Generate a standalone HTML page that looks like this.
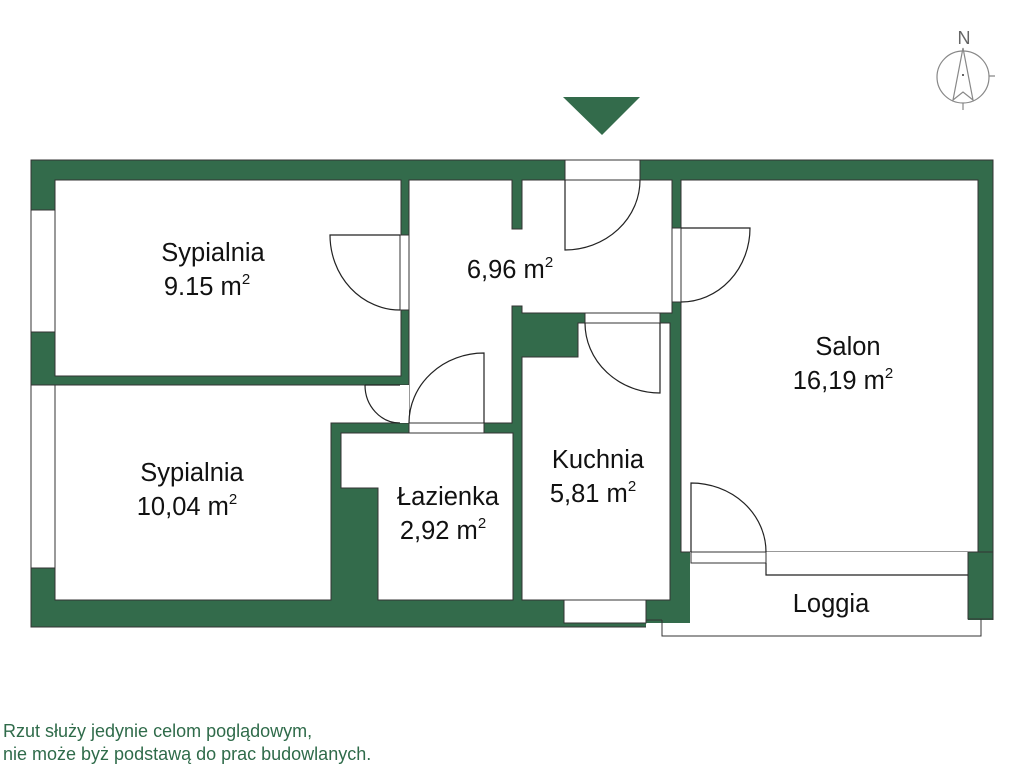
<!DOCTYPE html>
<html><head><meta charset="utf-8"><style>
html,body{margin:0;padding:0;background:#fff;width:1024px;height:768px;overflow:hidden}
svg{display:block}
text{font-family:"Liberation Sans",sans-serif;fill:#111}
</style></head><body>
<svg width="1024" height="768" viewBox="0 0 1024 768" xmlns="http://www.w3.org/2000/svg">
<g fill="#336b4b" stroke="#333" stroke-width="1">
<rect x="31" y="160" width="962" height="467"/>
</g>
<rect x="690" y="620" width="310" height="10" fill="#fff"/>
<rect x="646" y="623" width="50" height="8" fill="#fff"/>
<g fill="#fff" stroke="#333" stroke-width="1">
<rect x="31" y="210" width="24" height="122"/>
<rect x="31" y="385" width="24" height="183"/>
<rect x="565" y="160" width="75" height="20"/>
<rect x="564" y="600" width="82" height="23"/>
<rect x="55" y="180" width="346" height="196"/>
<path d="M55 385 H409 V423 H331 V600 H55 Z"/>
<path d="M409 180 H512 V229 H522 V180 H672 V313 H522 V306 H512 V423 H409 Z"/>
<path d="M578 323 H670 V600 H522 V357 H578 Z"/>
<path d="M341 433 H513 V600 H378 V488 H341 Z"/>
<rect x="681" y="180" width="297" height="372"/>
<path d="M690 552 H968 V620 H690 Z" stroke="none"/>
<rect x="968" y="552" width="25" height="67" fill="#336b4b"/>
<path d="M662 620 H646 M662 620 V636 H981 V619" fill="none"/>
<rect x="400" y="235" width="9" height="75"/>
<rect x="672" y="228" width="9" height="74"/>
<rect x="585" y="313" width="75" height="10"/>
<rect x="409" y="423" width="75" height="10"/>
<rect x="400" y="385" width="9" height="38" stroke="none"/>
<rect x="691" y="552" width="75" height="11"/>
</g>
<g fill="none" stroke="#222" stroke-width="1.2">
<path d="M766 563 V575 H968"/>
<path d="M400 235 H330 A70 75 0 0 0 400 310"/>
<path d="M681 228 H750 A69 74 0 0 1 681 302"/>
<path d="M565 180 V250 A75 70 0 0 0 640 180"/>
<path d="M660 323 V393 A75 70 0 0 1 585 323"/>
<path d="M484 423 V353 A75 70 0 0 0 409 423"/>
<path d="M365 385 H400 M365 385 A35 38 0 0 0 400 423"/>
<path d="M691 552 V483 A75 69 0 0 1 766 552"/>
</g>
<polygon points="563,97 640,97 602,135" fill="#336b4b"/>
<g stroke="#888" fill="none" stroke-width="1.2">
<circle cx="963" cy="77" r="26"/>
<path d="M963 48 L953 100 L963 92 L973 100 Z"/>
<path d="M989 76 H995 M963 103 V110"/>
</g>
<text x="964" y="44" font-size="18" text-anchor="middle" style="fill:#666">N</text>
<circle cx="963" cy="75" r="1" fill="#333"/>
<g font-size="25.5" text-anchor="middle">
<text x="213" y="261">Sypialnia</text>
<text x="207" y="295">9.15 m<tspan font-size="15" dy="-11">2</tspan></text>
<text x="510" y="278">6,96 m<tspan font-size="15" dy="-11">2</tspan></text>
<text x="848" y="355">Salon</text>
<text x="843" y="389">16,19 m<tspan font-size="15" dy="-11">2</tspan></text>
<text x="192" y="481">Sypialnia</text>
<text x="187" y="515">10,04 m<tspan font-size="15" dy="-11">2</tspan></text>
<text x="448" y="505">Łazienka</text>
<text x="443" y="539">2,92 m<tspan font-size="15" dy="-11">2</tspan></text>
<text x="598" y="468">Kuchnia</text>
<text x="593" y="502">5,81 m<tspan font-size="15" dy="-11">2</tspan></text>
<text x="831" y="612">Loggia</text>
</g>
<g font-size="18">
<text x="3" y="737" style="fill:#2f6b4a">Rzut służy jedynie celom poglądowym,</text>
<text x="3" y="760" style="fill:#2f6b4a">nie może byż podstawą do prac budowlanych.</text>
</g>
</svg>
</body></html>
